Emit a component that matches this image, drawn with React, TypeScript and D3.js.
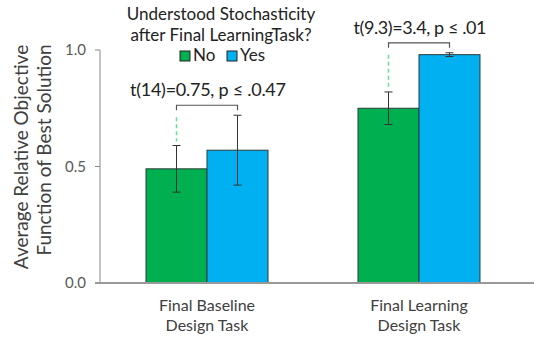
import React from 'react'
import { scaleLinear, scaleBand } from 'd3'

const categories = ['Final Baseline|Design Task', 'Final Learning|Design Task']
const series = ['No', 'Yes']
const colors = ['#00b050', '#00b0f0']
const means = [
  [0.49, 0.57],
  [0.75, 0.98],
]
const errors = [
  [0.10, 0.15],
  [0.07, 0.008],
]
const tests = ['t(14)=0.75, p \u2264 .0.47', 't(9.3)=3.4, p \u2264 .01']
const yTicks = [0, 0.5, 1]

const App = () => {
  const width = 534
  const height = 339
  const font = 'Lato, "Open Sans", sans-serif'
  // measured widths of the annotation strings in the original
  const testWidths = [156, 133]

  const y = scaleLinear().domain([0, 1]).range([283, 50])
  const x = scaleBand().domain(categories).range([101, 525])
  const inner = scaleBand().domain(series).range([0, x.bandwidth()]).paddingOuter(0.738)

  const bars = categories.map((c, ci) =>
    series.map((s, si) => {
      const x0 = x(c)! + inner(s)!
      const v = means[ci][si]
      return (
        <rect
          key={c + s}
          x={x0}
          y={y(v)}
          width={inner.bandwidth()}
          height={y(0) - y(v)}
          fill={colors[si]}
          stroke='#2b3a3a'
          strokeWidth={1}
        />
      )
    })
  )

  const errorBars = categories.map((c, ci) =>
    series.map((s, si) => {
      const cx = x(c)! + inner(s)! + inner.bandwidth() / 2
      const v = means[ci][si]
      const e = errors[ci][si]
      return (
        <g key={c + s} stroke='#333' strokeWidth={1}>
          <line x1={cx} x2={cx} y1={y(v + e)} y2={y(v - e)} />
          <line x1={cx - 4} x2={cx + 4} y1={y(v + e)} y2={y(v + e)} />
          <line x1={cx - 4} x2={cx + 4} y1={y(v - e)} y2={y(v - e)} />
        </g>
      )
    })
  )

  const brackets = categories.map((c, ci) => {
    const xs = series.map(s => x(c)! + inner(s)! + inner.bandwidth() / 2)
    const tops = series.map((s, si) => y(means[ci][si] + errors[ci][si]))
    const by = Math.min(...tops) - 10
    return (
      <g key={c}>
        <line
          x1={xs[0]} x2={xs[0]} y1={by + 12} y2={tops[0] - 4}
          stroke='#66dd99' strokeWidth={1.5} strokeDasharray='4,3'
        />
        <path
          d={`M${xs[0]},${by + 5}V${by}H${xs[1]}V${by + 5}`}
          fill='none' stroke='#555' strokeWidth={1.2}
        />
        <text x={(xs[0] + xs[1]) / 2 + 1} y={by - 9} textAnchor='middle' fontSize={18} fill='#222'
          textLength={testWidths[ci]} lengthAdjust='spacing'>
          {tests[ci]}
        </text>
      </g>
    )
  })

  const yAxis = yTicks.map(t => (
    <g key={t}>
      <line x1={95} x2={100} y1={y(t)} y2={y(t)} stroke='#888' />
      <text x={86} y={y(t) + 5} textAnchor='end' fontSize={15} fill='#595959'>{t.toFixed(1)}</text>
    </g>
  ))

  const xLabels = categories.map(c => (
    <text key={c} x={x(c)! + x.bandwidth() / 2} textAnchor='middle' fontSize={16} fill='#404040'>
      {c.split('|').map((l, i) => (
        <tspan key={i} x={x(c)! + x.bandwidth() / 2} y={311 + i * 20}>{l}</tspan>
      ))}
    </text>
  ))

  return (
    <svg width={width} height={height} viewBox={`0 0 ${width} ${height}`}
      style={{ position: 'absolute', left: 0, top: 0, fontFamily: font }}>
      <rect width={width} height={height} fill='#fff' />
      {bars}
      {errorBars}
      {brackets}
      <line x1={100} x2={100} y1={y(1)} y2={y(0)} stroke='#888' />
      {yAxis}
      <line x1={95} x2={534} y1={y(0)} y2={y(0)} stroke='#999' strokeWidth={2} />
      {xLabels}
      <text transform={`translate(28,157) rotate(-90)`} textAnchor='middle' fontSize={19} fill='#404040'>
        Average Relative Objective
      </text>
      <text transform={`translate(51,150) rotate(-90)`} textAnchor='middle' fontSize={19} fill='#404040'>
        Function of Best Solution
      </text>
      <text x={221} y={20} textAnchor='middle' fontSize={17} fill='#222'>Understood Stochasticity</text>
      <text x={221} y={41} textAnchor='middle' fontSize={17} fill='#222'>after Final LearningTask?</text>
      {series.map((s, i) => (
        <g key={s} transform={`translate(${180 + i * 47},51)`}>
          <rect width={10} height={10} fill={colors[i]} stroke='#222' strokeWidth={1} />
          <text x={13} y={10} fontSize={17} fill='#222'>{s}</text>
        </g>
      ))}
    </svg>
  )
}

export default App
